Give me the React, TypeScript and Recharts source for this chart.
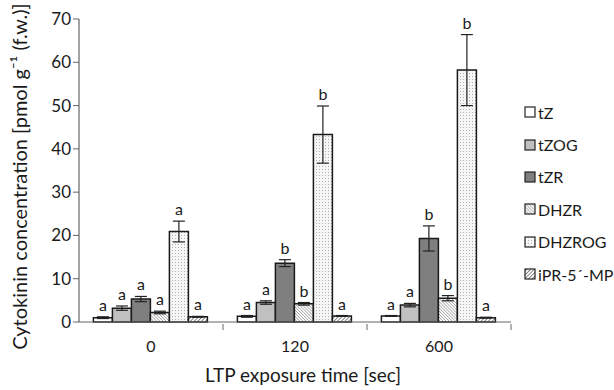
import React from "react";
import { BarChart, Bar, XAxis, YAxis, ErrorBar, LabelList } from "recharts";

const categories = ["0", "120", "600"];
const seriesNames = ["tZ", "tZOG", "tZR", "DHZR", "DHZROG", "iPR-5´-MP"];
const tZ = [1.0, 1.3, 1.4];
const tZOG = [3.2, 4.5, 3.9];
const tZR = [5.3, 13.6, 19.3];
const DHZR = [2.2, 4.2, 5.5];
const DHZROG = [20.9, 43.3, 58.2];
const iPR = [1.2, 1.4, 1.0];
const tZErr = [0.2, 0.2, 0.1];
const tZOGErr = [0.5, 0.4, 0.4];
const tZRErr = [0.6, 0.8, 2.9];
const DHZRErr = [0.3, 0.3, 0.6];
const DHZROGErr = [2.4, 6.6, 8.2];
const iPRErr = [0.1, 0.1, 0.1];
const tZSig = ["a", "a", "a"];
const tZOGSig = ["a", "a", "a"];
const tZRSig = ["a", "b", "b"];
const DHZRSig = ["a", "b", "b"];
const DHZROGSig = ["a", "b", "b"];
const iPRSig = ["a", "a", "a"];
const yTicks = [0, 10, 20, 30, 40, 50, 60, 70];

const values = [tZ, tZOG, tZR, DHZR, DHZROG, iPR];
const errors = [tZErr, tZOGErr, tZRErr, DHZRErr, DHZROGErr, iPRErr];
const sigs = [tZSig, tZOGSig, tZRSig, DHZRSig, DHZROGSig, iPRSig];
const fills = [
  "#ffffff",
  "#c0c0c0",
  "#7f7f7f",
  "url(#hatchDense)",
  "url(#dots)",
  "url(#hatchCoarse)",
];

const data = categories.map((c, i) => {
  const row: any = { cat: c };
  seriesNames.forEach((s, k) => {
    row["v" + k] = values[k][i];
    row["e" + k] = errors[k][i];
    row["s" + k] = sigs[k][i];
  });
  return row;
});

const FONT = "Lato, 'Open Sans', sans-serif";
const TXT = "#1a1a1a";

const Defs = () => (
  <svg width={0} height={0} style={{ position: "absolute" }}>
    <defs>
      <pattern id="hatchDense" patternUnits="userSpaceOnUse" width={2.2} height={2.2} patternTransform="rotate(-45)">
        <rect width={2.2} height={2.2} fill="#ffffff" />
        <line x1={0} y1={0} x2={0} y2={2.2} stroke="#808080" strokeWidth={1.1} />
      </pattern>
      <pattern id="hatchCoarse" patternUnits="userSpaceOnUse" width={2.6} height={2.6} patternTransform="rotate(45)">
        <rect width={2.6} height={2.6} fill="#ffffff" />
        <line x1={0} y1={0} x2={0} y2={2.6} stroke="#4a4a4a" strokeWidth={1.3} />
      </pattern>
      <pattern id="dots" patternUnits="userSpaceOnUse" width={3} height={3}>
        <rect width={3} height={3} fill="#f6f6f6" />
        <rect x={1} y={1} width={1} height={1} fill="#b0b0b0" />
      </pattern>
    </defs>
  </svg>
);

const makeLabel = (k: number) => (props: any) => {
  const { x, y, width, height, index } = props;
  const v = values[k][index];
  const e = errors[k][index];
  const pxPerUnit = v ? height / v : 0;
  const top = y - e * pxPerUnit;
  return (
    <text
      x={x + width / 2}
      y={top - 6}
      textAnchor="middle"
      fontSize={16}
      fontFamily={FONT}
      fill={TXT}
      style={{ fill: TXT }}
    >
      {sigs[k][index]}
    </text>
  );
};

const XTick = (props: any) => {
  const { x, y, payload } = props;
  const half = 72;
  return (
    <g>
      <line x1={x + half} y1={y - 6} x2={x + half} y2={y} stroke="#666" strokeWidth={1} />
      <text x={x} y={y + 22} textAnchor="middle" fontSize={16} fontFamily={FONT} fill={TXT}>
        {payload.value}
      </text>
    </g>
  );
};

const YLabel = (props: any) => {
  const vb = props.viewBox || { x: 0, y: 0, width: 0, height: 0 };
  const cx = vb.x + 27;
  const cy = vb.y + vb.height / 2 + 6;
  return (
    <text
      x={cx}
      y={cy}
      transform={`rotate(-90, ${cx}, ${cy})`}
      textAnchor="middle"
      fontSize={20}
      fontFamily={FONT}
      fill={TXT}
    >
      Cytokinin concentration [pmol g⁻¹ (f.w.)]
    </text>
  );
};

const XLabel = (props: any) => {
  const vb = props.viewBox || { x: 0, y: 0, width: 0, height: 0 };
  return (
    <text
      x={vb.x + vb.width / 2 + 8}
      y={382}
      textAnchor="middle"
      fontSize={19}
      fontFamily={FONT}
      fill={TXT}
    >
      LTP exposure time [sec]
    </text>
  );
};

const Legend = () => (
  <div style={{ position: "absolute", left: 524, top: 96, fontFamily: FONT, fontSize: 16, color: TXT }}>
    {seriesNames.map((s, k) => (
      <div key={s} style={{ display: "flex", alignItems: "center", height: 32.4 }}>
        <svg width={12} height={12} style={{ marginRight: 2 }}>
          <rect x={1} y={1} width={10} height={10} fill={fills[k]} stroke="#222" strokeWidth={1.2} />
        </svg>
        <span>{s}</span>
      </div>
    ))}
  </div>
);

export default function App() {
  return (
    <div style={{ position: "absolute", left: 0, top: 0, width: 614, height: 390, background: "#fff" }}>
      <Defs />
      <BarChart
        width={614}
        height={390}
        data={data}
        margin={{ top: 19, right: 103, bottom: 0, left: 0 }}
        barCategoryGap="10%"
        barGap={0}
      >
        <XAxis
          dataKey="cat"
          height={68}
          tickLine={false}
          axisLine={{ stroke: "#666", strokeWidth: 1.2 }}
          tick={<XTick />}
          interval={0}
          label={<XLabel />}
        />
        <YAxis
          width={79}
          domain={[0, 70]}
          ticks={yTicks}
          interval={0}
          tickSize={6}
          tickLine={{ stroke: "#666" }}
          axisLine={{ stroke: "#666", strokeWidth: 1.2 }}
          tick={{ fontSize: 17, fontFamily: FONT, fill: TXT }}
          label={<YLabel />}
        />
        {seriesNames.map((s, k) => (
          <Bar
            key={s}
            dataKey={"v" + k}
            name={s}
            fill={fills[k]}
            stroke="#1a1a1a"
            strokeWidth={1.5}
            isAnimationActive={false}
          >
            <ErrorBar dataKey={"e" + k} width={6} stroke="#222" strokeWidth={1.2} />
            <LabelList dataKey={"s" + k} content={makeLabel(k)} />
          </Bar>
        ))}
      </BarChart>
      <Legend />
    </div>
  );
}
